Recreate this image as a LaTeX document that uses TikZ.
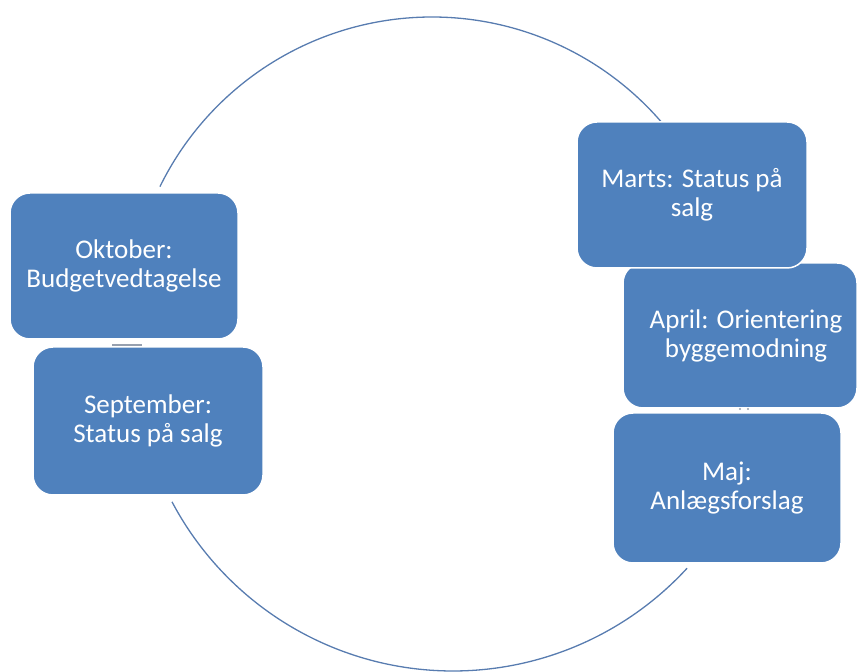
\documentclass[tikz,border=0pt]{standalone}
\usepackage{fontspec}
\setmainfont{Carlito}
\definecolor{boxblue}{RGB}{79,129,189}
\definecolor{arcblue}{RGB}{88,124,176}
\definecolor{tickgray}{RGB}{150,160,175}
\begin{document}
\begin{tikzpicture}[x=1pt,y=1pt,
  monthbox/.style={draw=white, line width=1.5pt, fill=boxblue, rounded corners=20pt,
    text=white, align=center, inner sep=0pt, font=\fontsize{27}{29}\selectfont},
  boxsize/.style 2 args={minimum width=#1, minimum height=#2},
  arcline/.style={draw=arcblue, line width=1.3pt}]
\useasboundingbox (0,0) rectangle (858,671);
% arcs of the cycle
\coordinate (ctop) at (432,351);
\coordinate (cbot) at (453,318);
\draw[arcline] (ctop) ++(153.9:303) arc[start angle=153.9, end angle=40.4, radius=303];
\draw[arcline] (cbot) ++(207.9:318) arc[start angle=207.9, end angle=317.4, radius=318];
% boxes
\node[monthbox, boxsize={228}{146}] (okt) at (124,405) {Oktober:\\Budgetvedtagelse};
\node[monthbox, boxsize={230}{148}] (sep) at (148,250) {September:\\Status på salg};
\node[monthbox, boxsize={234}{145}] (apr) at (740,335.5) {\hspace*{12pt}April: Orientering\\\hspace*{12pt}byggemodning};
\node[monthbox, boxsize={230}{146}] (mar) at (692,476) {Marts: Status på\\salg};
\node[monthbox, boxsize={228}{150}] (maj) at (727,183) {Maj:\\Anlægsforslag};
% small visible arc pieces in the gaps
\coordinate (g1a) at (112,326);
\coordinate (g1b) at (142,326);
\draw[tickgray, line width=1.5pt] (g1a) -- (g1b);
\coordinate (g2a) at (740,262);
\coordinate (g2b) at (748,262);
\fill[tickgray] (g2a) circle (1.2pt);
\fill[tickgray] (g2b) circle (1.2pt);
\end{tikzpicture}
\end{document}
